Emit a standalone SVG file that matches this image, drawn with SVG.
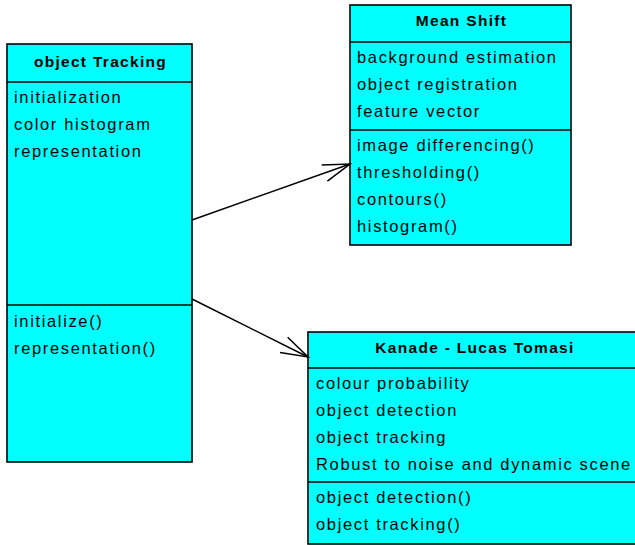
<svg xmlns="http://www.w3.org/2000/svg" width="635" height="545" viewBox="0 0 635 545">
  <style>
    .box { fill: #00ffff; stroke: #000; stroke-width: 1.6; }
    .sep { stroke: #000; stroke-width: 1.6; }
    .title { font-family: "Liberation Sans", Arial, sans-serif; font-size: 15.5px; font-weight: bold; letter-spacing: 1.3px; text-anchor: middle; fill: #000; }
    .item { font-family: "Liberation Sans", Arial, sans-serif; font-size: 16.5px; letter-spacing: 1.65px; fill: #000; }
    .link { fill: none; stroke: #000; stroke-width: 1.5; }
  </style>
  <defs>
    <marker id="open-arrow" markerUnits="userSpaceOnUse" markerWidth="40" markerHeight="30" refX="30" refY="15" orient="auto" overflow="visible">
      <path d="M3,6.5 L30,15 L3,23.5" fill="none" stroke="#000" stroke-width="1.5"/>
    </marker>
  </defs>

  <rect width="635" height="545" fill="#fff"/>

  <!-- class: object Tracking -->
  <g id="object-tracking">
    <rect class="box" x="7" y="44" width="185" height="418"/>
    <line class="sep" x1="7" y1="82" x2="192" y2="82"/>
    <line class="sep" x1="7" y1="305" x2="192" y2="305"/>
    <text class="title" x="100.5" y="67">object Tracking</text>
    <text class="item" x="14" y="103">initialization</text>
    <text class="item" x="14" y="130">color histogram</text>
    <text class="item" x="14" y="157">representation</text>
    <text class="item" x="14" y="327">initialize()</text>
    <text class="item" x="14" y="354">representation()</text>
  </g>

  <!-- class: Mean Shift -->
  <g id="mean-shift">
    <rect class="box" x="350" y="5" width="221" height="240"/>
    <line class="sep" x1="350" y1="42" x2="571" y2="42"/>
    <line class="sep" x1="350" y1="130" x2="571" y2="130"/>
    <text class="title" x="461.5" y="26">Mean Shift</text>
    <text class="item" x="357" y="63">background estimation</text>
    <text class="item" x="357" y="90">object registration</text>
    <text class="item" x="357" y="117">feature vector</text>
    <text class="item" x="357" y="151">image differencing()</text>
    <text class="item" x="357" y="178">thresholding()</text>
    <text class="item" x="357" y="205">contours()</text>
    <text class="item" x="357" y="232">histogram()</text>
  </g>

  <!-- class: Kanade - Lucas Tomasi -->
  <g id="kanade-lucas-tomasi">
    <rect class="box" x="308" y="332" width="332" height="212"/>
    <line class="sep" x1="308" y1="368" x2="640" y2="368"/>
    <line class="sep" x1="308" y1="482" x2="640" y2="482"/>
    <text class="title" x="475" y="353">Kanade - Lucas Tomasi</text>
    <text class="item" x="316" y="389">colour probability</text>
    <text class="item" x="316" y="416">object detection</text>
    <text class="item" x="316" y="443">object tracking</text>
    <text class="item" x="316" y="470">Robust to noise and dynamic scene</text>
    <text class="item" x="316" y="503">object detection()</text>
    <text class="item" x="316" y="530">object tracking()</text>
  </g>

  <!-- associations -->
  <g id="connectors">
    <line class="link" x1="192" y1="220" x2="350" y2="164" marker-end="url(#open-arrow)"/>
    <line class="link" x1="192" y1="299" x2="308" y2="357" marker-end="url(#open-arrow)"/>
  </g>
</svg>
